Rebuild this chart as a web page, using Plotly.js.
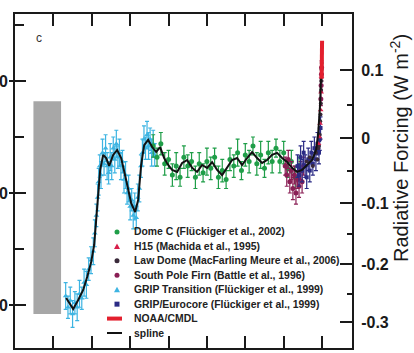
<!DOCTYPE html>
<html><head><meta charset="utf-8">
<script src="https://cdn.plot.ly/plotly-3.0.1.min.js"></script>
<style>html,body{margin:0;padding:0;background:#fff;}#chart{width:414px;height:353px;}</style>
</head><body><div id="chart"></div>
<script>
// ---------------- DATA (years before 2005, N2O ppb) ----------------
const splineYears = [16666,16405,16210,15884,15559,15299,15038,14843,14713,14582,14452,14257,14062,13866,13606,13346,13085,12760,12434,12174,11979,11783,11588,11327,11067,10807,10546,10286,10025,9765,9440,9114,8789,8463,8138,7812,7487,7161,6836,6510,6185,5859,5534,5208,4883,4557,4232,3906,3581,3255,2930,2604,2279,1953,1628,1302,977,651,391,260,130,65,0];
const splineN2O   = [203.1,200.0,198.2,202.2,206.7,212.5,219.2,226.8,238.0,251.3,260.3,267.0,265.6,262.1,267.0,269.2,265.6,255.8,245.5,241.5,246.9,262.5,271.4,273.7,270.5,268.3,270.5,265.6,262.5,260.3,259.4,263.4,264.7,261.2,259.4,262.5,261.2,263.8,260.3,258.0,261.2,264.7,265.6,262.5,265.6,268.3,265.6,263.4,264.7,267.0,267.9,265.6,263.8,261.2,259.4,260.3,262.5,264.7,269.2,275.9,289.3,302.7,316.1];

const domeCYears = [11000,10750,10500,10250,10000,9750,9500,9250,9000,8750,8500,8250,8000,7750,7500,7250,7000,6750,6500,6250,6000,5750,5500,5250,5000,4750,4500,4250,4000,3750,3500,3250,3000,2750,2500,2250,2000,1750,1500];
const domeCN2O   = [271,266,272,263,265,258,262,257,266,262,264,257,263,259,264,261,266,257,260,256,265,262,268,260,267,264,271,263,267,261,268,264,270,264,268,261,264,257,262];
const domeCErr   = [5,4,5,5,4,5,6,4,5,5,4,5,5,4,6,5,4,5,5,4,5,5,6,4,5,5,4,5,6,4,5,5,4,5,5,4,5,5,4];

const gripTYears = [16700,16550,16400,16250,16100,15950,15800,15650,15500,15350,15200,15050,14900,14800,14700,14620,14550,14480,14400,14300,14200,14100,14000,13900,13800,13700,13600,13500,13400,13300,13200,13100,13000,12900,12800,12700,12600,12500,12400,12300,12200,12100,12000,11900,11800,11700,11600,11500,11400,11300,11200,11100,11000,10900];
const gripTN2O   = [204,199,202,196,201,199,205,203,210,209,216,220,224,232,240,248,255,262,258,268,263,270,262,259,266,262,270,265,272,266,268,262,264,256,258,250,252,244,247,240,244,239,248,252,262,268,274,270,276,271,274,268,272,267];
const gripTErr   = [6,5,6,6,5,6,6,5,6,6,5,6,6,6,5,6,6,5,6,6,5,6,6,5,6,6,5,6,6,5,6,6,5,6,6,5,6,6,5,6,6,5,6,6,5,6,6,5,6,6,5,6,6,5];

const southPoleYears = [2400,2300,2200,2100,2000,1900,1800,1700,1600,1500,1400,1300,1200,80,60,40,30];
const southPoleN2O   = [262,258,265,255,260,252,258,250,256,253,260,255,262,292,298,303,306];
const southPoleErr   = [4,5,4,5,4,5,4,5,4,5,4,5,4,3,3,3,3];

const gripEYears = [1600,1500,1400,1300,1200,1100,1000,900,800,700,600,500,400,300,200,150,100];
const gripEN2O   = [262,258,266,260,268,262,257,265,260,268,263,270,265,272,268,274,279];
const gripEErr   = [5,5,5,5,5,5,5,5,5,5,5,5,5,5,5,5,5];

const lawDomeYears = [1000,800,600,400,300,250,200,150,120,100,80,60,45,35,25];
const lawDomeN2O   = [264,266,262,268,265,270,271,276,282,285,290,296,300,305,308];

const h15Years = [230,180,130,90,60,40];
const h15N2O   = [272,275,281,287,295,302];

const noaaYears = [27,20,15,10,5,0];
const noaaN2O   = [301,304,307,310,315,318];

const grayBarN2O = [196, 291];

const leftTickVals = [200, 250, 300];
const leftTickText = ['0', '0', '0'];
const leftMinorVals = [225, 275, 325];
const rfTickVals = [0.1, 0, -0.1, -0.2, -0.3];
const rfTickText = ['0.1', '0', '-0.1', '-0.2', '-0.3'];
const rfMinorVals = [0.05, -0.05, -0.15, -0.25];

const legendNames = ['Dome C (Flückiger et al., 2002)', 'H15 (Machida et al., 1995)', 'Law Dome (MacFarling Meure et al., 2006)', 'South Pole Firn (Battle et al., 1996)', 'GRIP Transition (Flückiger et al., 1999)', 'GRIP/Eurocore (Flückiger et al., 1999)', 'NOAA/CMDL', 'spline'];

// ---------------- STYLE ----------------
const C = {green:'#1f9e48', red:'#d81e4a', dark:'#3a2a3a', maroon:'#8a1f55', cyan:'#3db4e2', navy:'#2b2b85', noaa:'#e3202e', spline:'#111111'};
const legendStyle = [
  {kind:'circle', color:C.green}, {kind:'triangle', color:C.red}, {kind:'circle', color:C.dark},
  {kind:'circle', color:C.maroon}, {kind:'triangle', color:C.cyan}, {kind:'square', color:C.navy},
  {kind:'line', color:C.noaa, w:4}, {kind:'line', color:C.spline, w:2}
];

// RF (W m-2) -> N2O (ppb) using a simplified square-root relation
const rfA = 0.1114, rfN0 = 274.4;
const rfToN = rf => Math.pow(rf / rfA + Math.sqrt(rfN0), 2);

function pts(x, y, err, color, symbol, size) {
  const t = {x:x, y:y, type:'scatter', mode:'markers', showlegend:false, hoverinfo:'skip',
    marker:{color:color, symbol:symbol, size:size}};
  if (err) t.error_y = {type:'data', array:err, visible:true, color:color, thickness:1.2, width:2};
  return t;
}

const traces = [
  pts(gripTYears, gripTN2O, gripTErr, C.cyan, 'triangle-up', 5),
  pts(domeCYears, domeCN2O, domeCErr, C.green, 'circle', 5),
  pts(southPoleYears, southPoleN2O, southPoleErr, C.maroon, 'circle', 5),
  pts(gripEYears, gripEN2O, gripEErr, C.navy, 'square', 4),
  pts(lawDomeYears, lawDomeN2O, null, C.dark, 'circle', 4),
  pts(h15Years, h15N2O, null, C.red, 'triangle-up', 5),
  {x:splineYears, y:splineN2O, type:'scatter', mode:'lines', line:{color:C.spline, width:2}, showlegend:false, hoverinfo:'skip'},
  {x:noaaYears, y:noaaN2O, type:'scatter', mode:'lines', line:{color:C.noaa, width:4}, showlegend:false, hoverinfo:'skip'},
  {x:[null], y:[null], yaxis:'y2', type:'scatter', mode:'markers', showlegend:false, hoverinfo:'skip'},
  {x:[null], y:[null], yaxis:'y3', type:'scatter', mode:'markers', showlegend:false, hoverinfo:'skip'}
];

// ---------------- LAYOUT ----------------
const W = 414, H = 353, ml = 15, mr = 62, mt = 14, mb = 5;
const pw = W - ml - mr, ph = H - mt - mb;
const px = x => (x - ml) / pw;
const py = y => (H - mb - y) / ph;
const yRange = [180.8, 329.9];
const axisColor = '#1a1a1a';

const shapes = [{type:'rect', xref:'x', yref:'y', x0:18800, x1:17000, y0:grayBarN2O[0], y1:grayBarN2O[1], fillcolor:'#a7a7a7', line:{width:0}, layer:'below'}];
const annotations = [
  {text:'c', xref:'paper', yref:'paper', x:px(39), y:py(38), showarrow:false, font:{family:'Arial', size:12, color:'#333'}, xanchor:'center', yanchor:'middle'},
  {text:'Radiative Forcing (W m<sup>-2</sup>)', xref:'paper', yref:'paper', x:px(399), y:py(148), textangle:-90, showarrow:false, font:{family:'Arial', size:20, color:'#1a1a1a'}, xanchor:'center', yanchor:'middle'}
];
legendNames.forEach((name, i) => {
  const yc = 232 + 14.43 * i, st = legendStyle[i], xc = 117;
  if (st.kind === 'circle') shapes.push({type:'circle', xref:'paper', yref:'paper', x0:px(xc-2.5), x1:px(xc+2.5), y0:py(yc+2.5), y1:py(yc-2.5), fillcolor:st.color, line:{width:0}});
  else if (st.kind === 'square') shapes.push({type:'rect', xref:'paper', yref:'paper', x0:px(xc-2.5), x1:px(xc+2.5), y0:py(yc+2.5), y1:py(yc-2.5), fillcolor:st.color, line:{width:0}});
  else if (st.kind === 'triangle') shapes.push({type:'path', xref:'paper', yref:'paper', path:`M ${px(xc-3)} ${py(yc+2.5)} L ${px(xc+3)} ${py(yc+2.5)} L ${px(xc)} ${py(yc-3)} Z`, fillcolor:st.color, line:{width:0}});
  else shapes.push({type:'line', xref:'paper', yref:'paper', x0:px(107), x1:px(122), y0:py(yc), y1:py(yc), line:{color:st.color, width:st.w}});
  annotations.push({text:name, xref:'paper', yref:'paper', x:px(132), y:py(yc), xanchor:'left', yanchor:'middle', showarrow:false, font:{family:'Arial', size:10.4, weight:'bold', color:'#222'}});
});

const layout = {
  width:W, height:H, margin:{l:ml, r:mr, t:mt, b:mb, pad:0},
  paper_bgcolor:'#fff', plot_bgcolor:'#fff', showlegend:false,
  xaxis:{range:[20000, -1950], showgrid:false, zeroline:false, showline:true, linewidth:2, linecolor:axisColor, mirror:'allticks',
    ticks:'inside', tickmode:'linear', tick0:0, dtick:5000, ticklen:12, tickwidth:2, tickcolor:axisColor, showticklabels:false,
    minor:{ticks:'inside', dtick:2500, tick0:0, ticklen:7, tickwidth:2, tickcolor:axisColor, showgrid:false}},
  yaxis:{range:yRange, showgrid:false, zeroline:false, showline:true, linewidth:2, linecolor:axisColor,
    ticks:'inside', tickmode:'array', tickvals:leftTickVals, ticktext:leftTickText, ticklen:11, tickwidth:2, tickcolor:axisColor,
    tickfont:{family:'Arial', size:16, weight:'bold', color:'#1a1a1a'}, ticklabelstandoff:2,
    minor:{ticks:'inside', tickmode:'array', tickvals:leftMinorVals, ticklen:9, tickwidth:2, tickcolor:axisColor, showgrid:false}},
  yaxis2:{overlaying:'y', side:'right', range:yRange, showgrid:false, zeroline:false, showline:true, linewidth:2, linecolor:axisColor,
    ticks:'inside', tickmode:'array', tickvals:rfTickVals.map(rfToN), ticktext:rfTickText, ticklen:12, tickwidth:2, tickcolor:axisColor,
    tickfont:{family:'Arial', size:16, weight:'bold', color:'#1a1a1a'}, ticklabelstandoff:4,
    minor:{ticks:'inside', tickmode:'array', tickvals:rfMinorVals.map(rfToN), ticklen:5, tickwidth:2, tickcolor:axisColor, showgrid:false}},
  yaxis3:{overlaying:'y', side:'left', range:yRange, showgrid:false, zeroline:false, showline:false,
    ticks:'outside', tickmode:'array', tickvals:leftTickVals, ticklen:5, tickwidth:2, tickcolor:axisColor, showticklabels:false},
  shapes:shapes, annotations:annotations
};

Plotly.newPlot('chart', traces, layout, {staticPlot:true, displayModeBar:false});
</script></body></html>
